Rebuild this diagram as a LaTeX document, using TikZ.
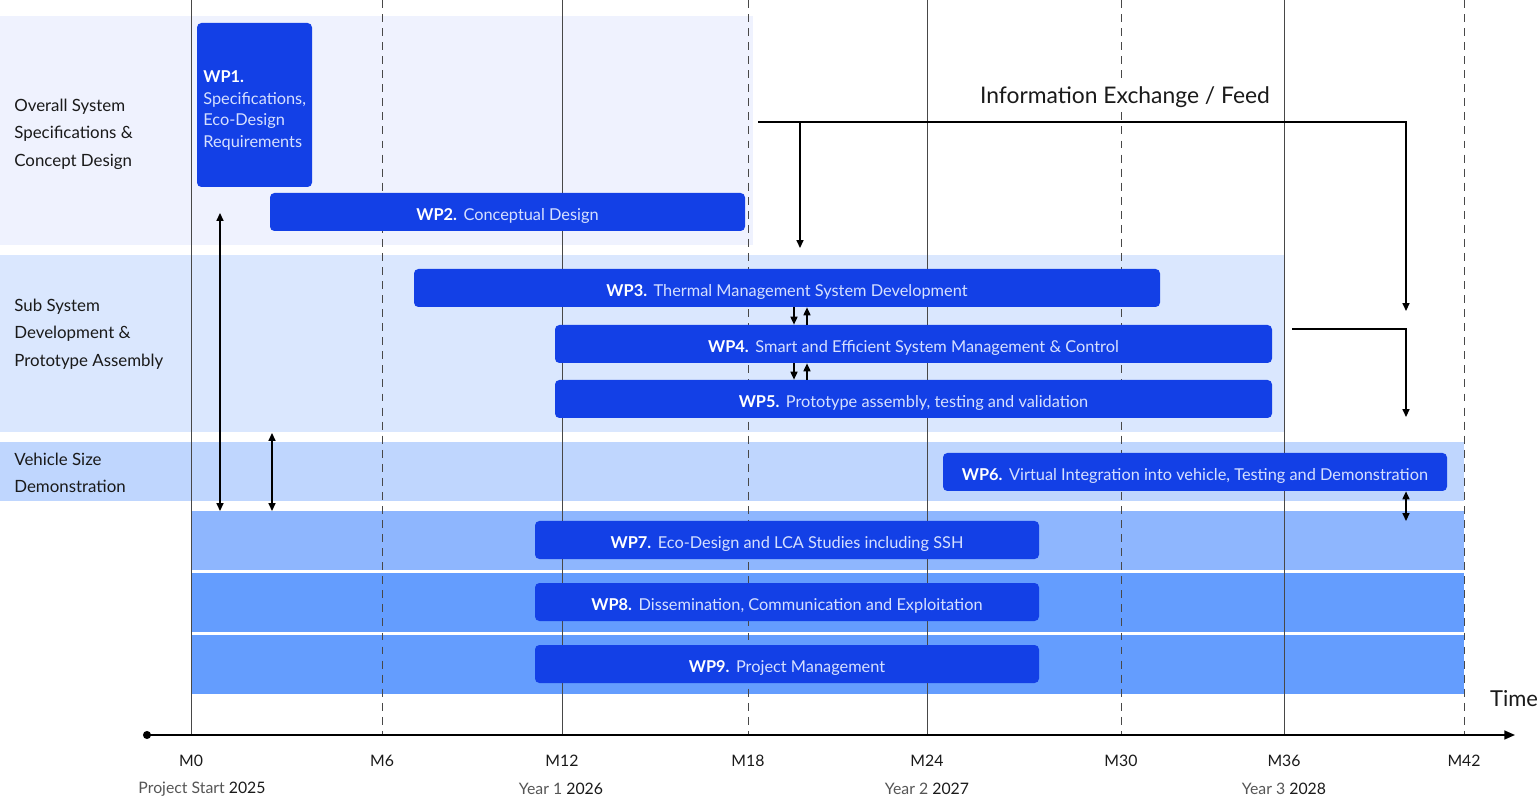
\documentclass[tikz,border=0pt]{standalone}
\usepackage{fontspec}
\setmainfont{Lato}
\usepackage{tikz}
\usetikzlibrary{arrows.meta}
\usetikzlibrary{fit}

\definecolor{wpblue}{HTML}{1340E6}
\definecolor{wptext}{HTML}{D6E0FF}
\definecolor{bandA}{HTML}{EFF2FE}
\definecolor{bandB}{HTML}{DAE7FE}
\definecolor{bandC}{HTML}{BFD6FE}
\definecolor{bandD}{HTML}{8EB6FE}
\definecolor{bandE}{HTML}{649DFE}
\definecolor{inkdark}{HTML}{1A1A1A}
\definecolor{inkgray}{HTML}{555555}

\newcommand{\wplabel}[2]{\textbf{#1}\hspace{0.4em}\textcolor{wptext}{#2}}

\tikzset{
    wpbox/.style={fill=wpblue, rounded corners=2.5pt, inner sep=0pt},
    wptitle/.style={text=white, inner sep=0pt, yshift=-2.2pt, font=\fontsize{9.3}{11}\selectfont},
    gridline/.style={draw=inkdark!80, line width=0.5pt},
    dashline/.style={gridline, dash pattern=on 4.5pt off 3.5pt},
    flow/.style={draw=black, line width=0.8pt, -{Triangle[length=4.5pt,width=4pt]}},
    bothflow/.style={draw=black, line width=0.8pt, {Triangle[length=4.5pt,width=4pt]}-{Triangle[length=4.5pt,width=4pt]}},
    rowlabel/.style={anchor=west, align=left, inner sep=0pt, text=inkdark, font=\fontsize{9.6}{15.6}\selectfont},
    monthlabel/.style={text=inkdark, font=\fontsize{9}{11}\selectfont}
}

\begin{document}
\begin{tikzpicture}[x=0.02cm, y=-0.02cm, font=\fontsize{9}{11}\selectfont]
    \useasboundingbox (0,0) rectangle (1539,800);
    \fill[bandA] (0,16) rectangle (753,245);
    \fill[bandB] (0,255) rectangle (1284,432);
    \fill[bandC] (0,442) rectangle (1464,501);
    \fill[bandD] (191,511) rectangle (1464,570);
    \fill[bandE] (191,573) rectangle (1464,632);
    \fill[bandE] (191,635) rectangle (1464,694);

    \foreach \x/\m in {191/0,562/12,927/24,1284/36} {
        \draw[gridline] (\x,0) -- (\x,735);
        \node[monthlabel] (m\m) at (\x,761) {M\m};
    }
    \foreach \x/\m in {382/6,748/18,1121/30,1464/42} {
        \draw[dashline] (\x,0) -- (\x,735);
        \node[monthlabel] (m\m) at (\x,761) {M\m};
    }
    \node[monthlabel] (y0) at (202,789) {\textcolor{inkgray}{Project Start}\ 2025};
    \node[monthlabel] (y1) at (561,789) {\textcolor{inkgray}{Year 1}\ 2026};
    \node[monthlabel] (y2) at (927,789) {\textcolor{inkgray}{Year 2}\ 2027};
    \node[monthlabel] (y3) at (1284,789) {\textcolor{inkgray}{Year 3}\ 2028};

    \node[rowlabel] (lab1) at (14,134) {Overall System\\Specifications \&\\Concept Design};
    \node[rowlabel] (lab2) at (14,334) {Sub System\\Development \&\\Prototype Assembly};
    \node[rowlabel] (lab3) at (14,473) {Vehicle Size\\Demonstration};

    \node[fill=white, inner sep=2pt, text=inkdark, font=\fontsize{13}{15}\selectfont] (info) at (1125,97) {Information Exchange / Feed};
    \node[text=inkdark, font=\fontsize{12.5}{14}\selectfont] (time) at (1514,699) {Time};

    \node[wpbox, fit={(197,23) (312,187)}] (wp1) {};
    \node[anchor=west, align=left, inner sep=0pt, font=\fontsize{9.3}{12}\selectfont] (wp1text) at (203,110) {\textcolor{white}{\textbf{WP1.}}\\[1pt]\textcolor{wptext}{Specifications,}\\\textcolor{wptext}{Eco-Design}\\\textcolor{wptext}{Requirements}};
    \node[wpbox, fit={(270,193) (745,231)}, label={[wptitle]center:\wplabel{WP2.}{Conceptual Design}}] (wp2) {};
    \node[wpbox, fit={(414,269) (1160,307)}, label={[wptitle]center:\wplabel{WP3.}{Thermal Management System Development}}] (wp3) {};
    \node[wpbox, fit={(555,325) (1272,363)}, label={[wptitle]center:\wplabel{WP4.}{Smart and Efficient System Management \& Control}}] (wp4) {};
    \node[wpbox, fit={(555,380) (1272,418)}, label={[wptitle]center:\wplabel{WP5.}{Prototype assembly, testing and validation}}] (wp5) {};
    \node[wpbox, fit={(943,453) (1447,491)}, label={[wptitle]center:\wplabel{WP6.}{Virtual Integration into vehicle, Testing and Demonstration}}] (wp6) {};
    \node[wpbox, fit={(535,521) (1039,559)}, label={[wptitle]center:\wplabel{WP7.}{Eco-Design and LCA Studies including SSH}}] (wp7) {};
    \node[wpbox, fit={(535,583) (1039,621)}, label={[wptitle]center:\wplabel{WP8.}{Dissemination, Communication and Exploitation}}] (wp8) {};
    \node[wpbox, fit={(535,645) (1039,683)}, label={[wptitle]center:\wplabel{WP9.}{Project Management}}] (wp9) {};

    \coordinate (infostart) at (758,122);
    \coordinate (infoend) at (1406,311);
    \coordinate (infodown) at (800,248);
    \draw[flow] (infostart) -| (infoend);
    \draw[flow] (infodown |- infostart) -- (infodown);
    \coordinate (feedstart) at (1292,329);
    \coordinate (feedend) at (1406,417);
    \draw[flow] (feedstart) -| (feedend);

    \coordinate (xa) at (794,0);
    \coordinate (xb) at (807,0);
    \draw[flow] (wp3.south -| xa) -- (wp4.north -| xa);
    \draw[flow] (wp4.north -| xb) -- (wp3.south -| xb);
    \draw[flow] (wp4.south -| xa) -- (wp5.north -| xa);
    \draw[flow] (wp5.north -| xb) -- (wp4.south -| xb);

    \coordinate (linkatop) at (220,213);
    \coordinate (linkabot) at (220,511);
    \coordinate (linkbtop) at (272,433);
    \coordinate (linkbbot) at (272,511);
    \coordinate (linkcbot) at (1406,521);
    \draw[bothflow] (linkatop) -- (linkabot);
    \draw[bothflow] (linkbtop) -- (linkbbot);
    \draw[bothflow] (wp6.south -| linkcbot) -- (linkcbot);

    \coordinate (axisstart) at (147,735);
    \coordinate (axisend) at (1515,735);
    \draw[line width=1pt, -{Triangle[length=6pt,width=5pt]}] (axisstart) -- (axisend);
    \fill (axisstart) circle (2.3pt);
\end{tikzpicture}
\end{document}
